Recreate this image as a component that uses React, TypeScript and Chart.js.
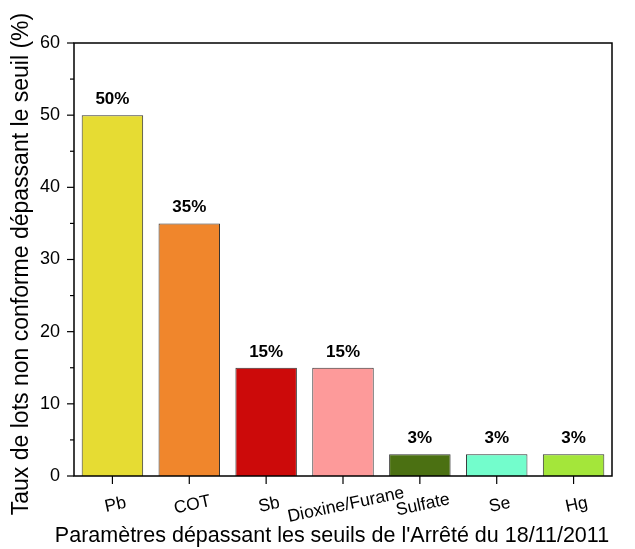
import React, { useEffect, useRef } from "react";
import { Chart, registerables } from "chart.js";

Chart.register(...registerables);

const categories = ["Pb", "COT", "Sb", "Dioxine/Furane", "Sulfate", "Se", "Hg"];
const values = [50, 35, 15, 15, 3, 3, 3];
const valueLabels = ["50%", "35%", "15%", "15%", "3%", "3%", "3%"];
const barColors = ["#E6DC33", "#F0862C", "#CC0A0A", "#FD9A9A", "#4B7012", "#73FDCC", "#A4E63A"];
const yMajorTicks = [0, 10, 20, 30, 40, 50, 60];
const yMinorTicks = [5, 15, 25, 35, 45, 55];
const xTitle = "Paramètres dépassant les seuils de l'Arrêté du 18/11/2011";
const yTitle = "Taux de lots non conforme dépassant le seuil (%)";

const FONT = "'Liberation Sans', Arial, sans-serif";

const drawPlugin = {
  id: "customDraw",
  afterDraw(chart: any) {
    const ctx = chart.ctx;
    const area = chart.chartArea;
    const x = chart.scales.x;
    const y = chart.scales.y;
    ctx.save();
    // frame
    ctx.strokeStyle = "#000";
    ctx.lineWidth = 1.5;
    ctx.strokeRect(area.left, area.top, area.right - area.left, area.bottom - area.top);
    // y ticks
    ctx.lineWidth = 1.2;
    yMajorTicks.forEach((v) => {
      const py = y.getPixelForValue(v);
      ctx.beginPath();
      ctx.moveTo(area.left - 7, py);
      ctx.lineTo(area.left, py);
      ctx.stroke();
    });
    yMinorTicks.forEach((v) => {
      const py = y.getPixelForValue(v);
      ctx.beginPath();
      ctx.moveTo(area.left - 4, py);
      ctx.lineTo(area.left, py);
      ctx.stroke();
    });
    // x ticks and labels
    ctx.fillStyle = "#000";
    ctx.font = `17.5px ${FONT}`;
    ctx.textAlign = "center";
    ctx.textBaseline = "middle";
    categories.forEach((c, i) => {
      const px = x.getPixelForValue(i);
      ctx.beginPath();
      ctx.moveTo(px, area.bottom);
      ctx.lineTo(px, area.bottom + 8);
      ctx.stroke();
      ctx.save();
      ctx.translate(px + 3, area.bottom + 29);
      ctx.rotate((-12 * Math.PI) / 180);
      ctx.fillText(c, 0, 0);
      ctx.restore();
    });
    // data labels
    const meta = chart.getDatasetMeta(0);
    ctx.font = `bold 17px ${FONT}`;
    ctx.textBaseline = "alphabetic";
    meta.data.forEach((bar: any, i: number) => {
      ctx.fillText(valueLabels[i], bar.x, bar.y - 11);
    });
    // axis titles
    ctx.font = `21.5px ${FONT}`;
    ctx.textBaseline = "middle";
    ctx.fillText(xTitle, 332, 536);
    ctx.save();
    ctx.font = `23px ${FONT}`;
    ctx.translate(22, 264);
    ctx.rotate(-Math.PI / 2);
    ctx.fillText(yTitle, 0, 0);
    ctx.restore();
    ctx.restore();
  },
};

export default function App() {
  const ref = useRef<HTMLCanvasElement>(null);
  useEffect(() => {
    document.body.style.margin = "0";
    const chart = new Chart(ref.current!, {
      type: "bar",
      data: {
        labels: categories,
        datasets: [
          {
            data: values,
            backgroundColor: barColors,
            borderColor: "#333",
            borderWidth: 1,
            barPercentage: 0.8,
            categoryPercentage: 1,
          },
        ],
      },
      options: {
        animation: false,
        responsive: false,
        maintainAspectRatio: false,
        layout: { padding: { left: 0, right: 23, top: 43, bottom: 0 } },
        plugins: { legend: { display: false }, tooltip: { enabled: false } },
        scales: {
          x: {
            grid: { display: false, drawTicks: false },
            border: { display: false },
            ticks: { display: false },
            afterFit: (s: any) => {
              s.height = 73;
            },
          },
          y: {
            min: 0,
            max: 60,
            grid: { display: false, drawTicks: false },
            border: { display: false },
            ticks: {
              stepSize: 10,
              padding: 14,
              color: "#000",
              font: { family: FONT, size: 18 },
            },
            afterFit: (s: any) => {
              s.width = 74;
            },
          },
        },
      },
      plugins: [drawPlugin],
    });
    return () => chart.destroy();
  }, []);
  return <canvas ref={ref} width={635} height={549} style={{ display: "block" }} />;
}
